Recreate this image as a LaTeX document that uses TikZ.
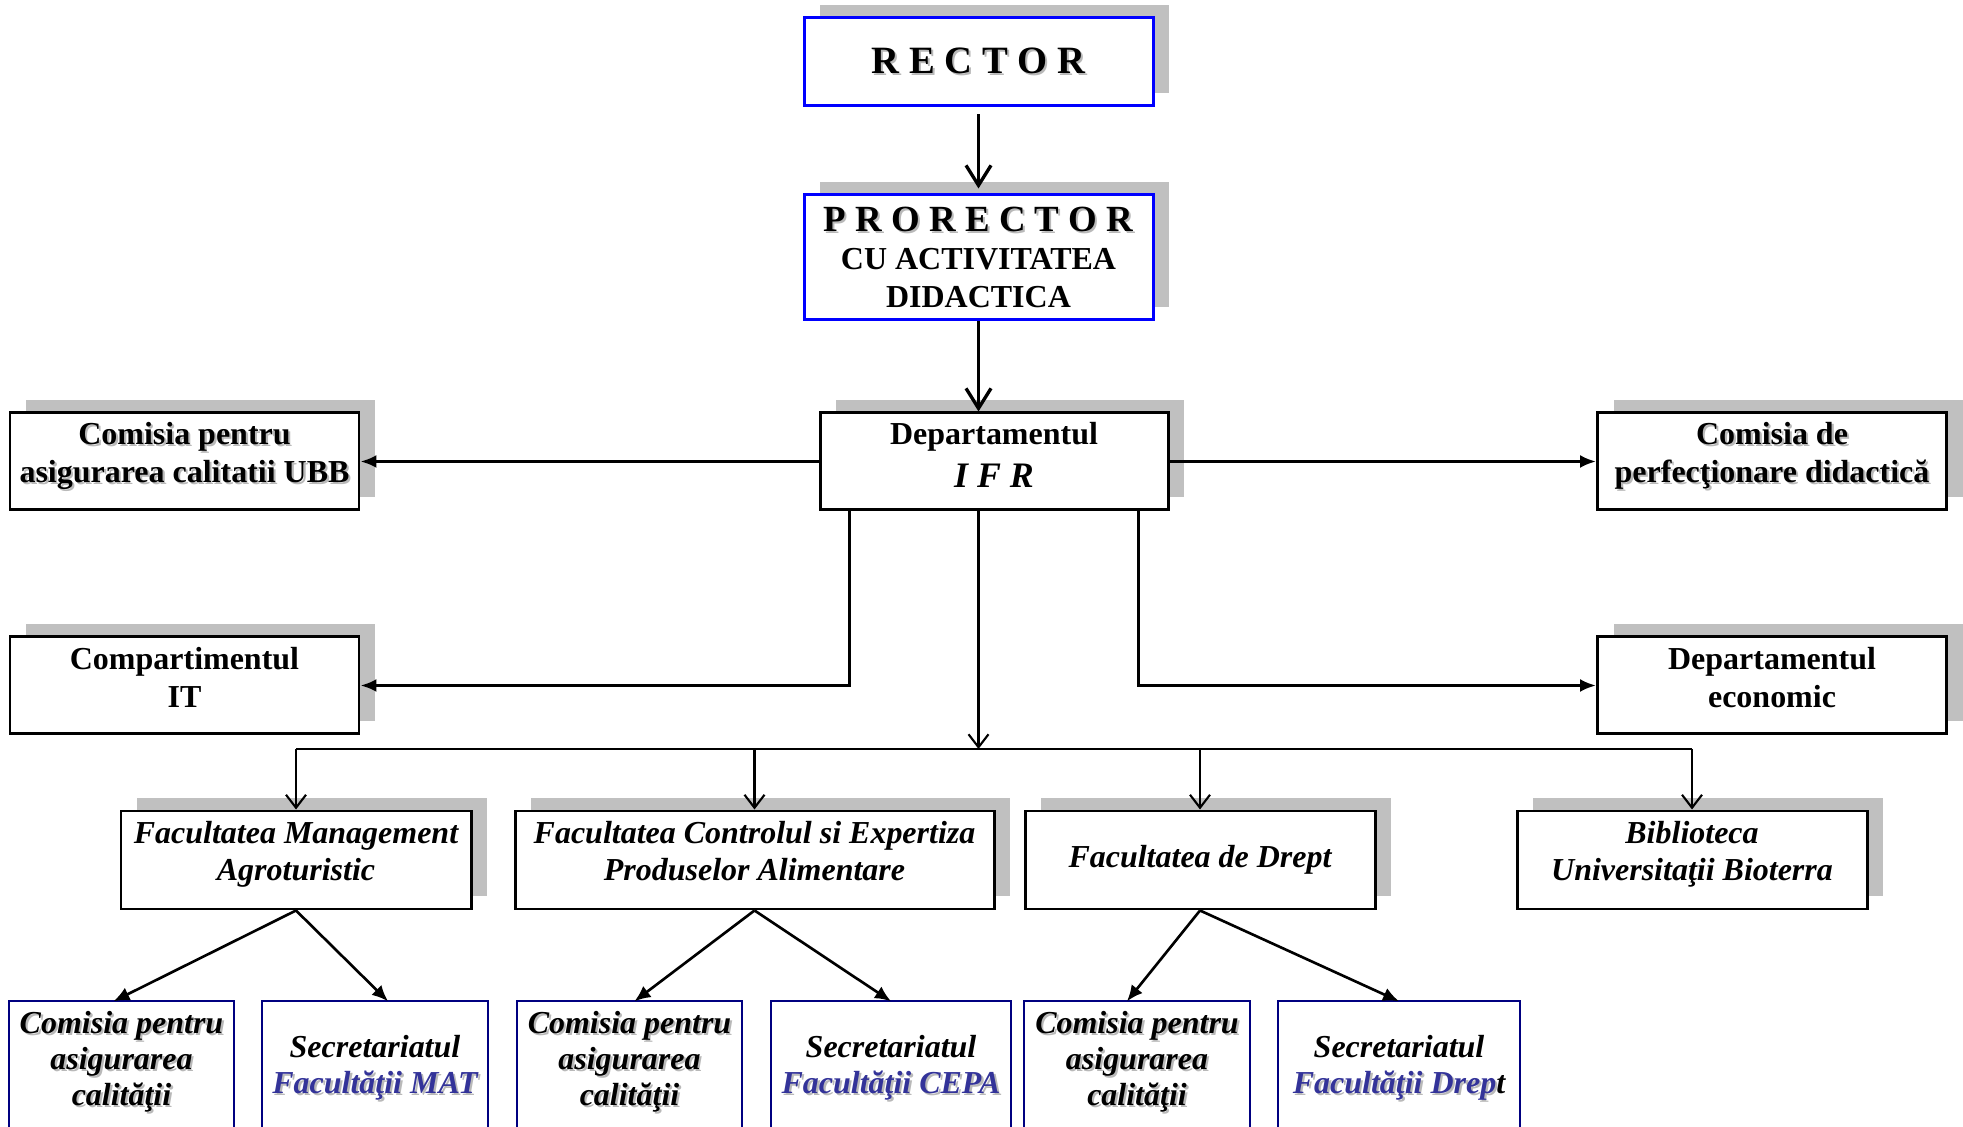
\documentclass[tikz,border=0pt]{standalone}
\usepackage{fontspec}
\setmainfont{Liberation Serif}
\usepackage{tikz}
\usetikzlibrary{calc, arrows, arrows.meta, shapes, shadows}
\tikzset{>=latex}
\definecolor{boxblue}{RGB}{0, 0, 255}
\definecolor{boxnavy}{RGB}{0, 0, 128}
\definecolor{secblue}{RGB}{51, 51, 153}
\definecolor{boxgray}{RGB}{192, 192, 192}
\definecolor{txtgray}{RGB}{185, 185, 185}
\newcommand{\shd}[1]{\leavevmode\rlap{\kern0.6pt\raisebox{-0.6pt}{\textcolor{txtgray}{#1}}}#1}
\tikzset{
  unit/.style={draw, line width=0.85pt, fill=white, align=center, inner sep=0pt,
    font=\fontsize{9.1}{10.8}\selectfont\bfseries,
    drop shadow={shadow xshift=0.16cm, shadow yshift=0.13cm, fill=boxgray, opacity=1}},
  topunit/.style={unit, draw=boxblue, minimum width=3.49cm},
  midunit/.style={unit, minimum width=3.49cm, minimum height=0.97cm},
  facunit/.style={unit, font=\fontsize{9.1}{10.5}\selectfont\bfseries\itshape,
    minimum width=3.5cm, minimum height=0.98cm},
  lowunit/.style={align=center, inner sep=0pt, minimum height=1.22cm,
    font=\fontsize{9.1}{10.3}\selectfont\bfseries\itshape},
  secunit/.style={lowunit, minimum height=1.34cm},
  lowframe/.style={draw=boxnavy, line width=0.6pt},
  raised/.style={execute at end node={\rule[-#1]{0pt}{0pt}}},
  raised/.default=0.19cm,
  mainarrow/.style={line width=0.95pt, -{Straight Barb[length=0.2cm, width=0.25cm]}},
  sidearrow/.style={line width=0.8pt, -{Latex[length=0.16cm, width=0.13cm]}},
  busline/.style={line width=0.6pt},
  busarrow/.style={busline, -{Straight Barb[length=0.13cm, width=0.2cm]}},
  diagarrow/.style={line width=0.75pt, -{Latex[length=0.16cm, width=0.14cm]}}
}

\begin{document}
\begin{tikzpicture}
\useasboundingbox (0,0) rectangle (19.63,-11.27);
\clip (0,0) rectangle (19.63,-11.27);

\node[topunit, minimum height=0.88cm, font=\fontsize{11}{13}\selectfont\bfseries] (rector) at (9.785,-0.62) {\shd{R E C T O R}};
\node[topunit, minimum height=1.25cm] (prorector) at (9.785,-2.575) {{\fontsize{10.5}{12}\selectfont\shd{P R O R E C T O R}}\\CU ACTIVITATEA\\DIDACTICA};

\node[midunit, raised=0.14cm, minimum width=3.48cm] (ifr) at (9.94,-4.615) {Departamentul\\[0.05cm]{\fontsize{10.2}{12}\selectfont\itshape I F R}};
\node[midunit, raised] (ubb) at (1.845,-4.615) {\shd{Comisia pentru}\\\shd{asigurarea calitatii UBB}};
\node[midunit, raised] (perf) at (17.72,-4.615) {\shd{Comisia de}\\\shd{perfecţionare didactică}};
\node[midunit, raised=0.17cm] (it) at (1.845,-6.855) {Compartimentul\\IT};
\node[midunit, raised=0.17cm] (econ) at (17.72,-6.855) {Departamentul\\economic};

\node[facunit, raised] (mgmt) at (2.96,-8.60) {Facultatea Management\\Agroturistic};
\node[facunit, raised, minimum width=4.79cm] (cepa) at (7.545,-8.60) {Facultatea Controlul si Expertiza\\Produselor Alimentare};
\node[facunit] (drept) at (12.00,-8.60) {Facultatea de Drept};
\node[facunit, raised] (bibl) at (16.92,-8.60) {Biblioteca\\Universitaţii Bioterra};

\node[lowunit, minimum width=2.23cm] (com1) at (1.215,-10.63) {\shd{Comisia pentru}\\\shd{asigurarea}\\\shd{calităţii}};
\node[secunit, minimum width=2.24cm] (sec1) at (3.75,-10.69) {Secretariatul\\{\color{secblue}\shd{Facultăţii MAT}}};
\node[lowunit, minimum width=2.23cm] (com2) at (6.295,-10.63) {\shd{Comisia pentru}\\\shd{asigurarea}\\\shd{calităţii}};
\node[secunit, minimum width=2.38cm] (sec2) at (8.91,-10.69) {Secretariatul\\{\color{secblue}\shd{Facultăţii CEPA}}};
\node[lowunit, minimum width=2.24cm] (com3) at (11.37,-10.63) {\shd{Comisia pentru}\\\shd{asigurarea}\\\shd{calităţii}};
\node[secunit, minimum width=2.40cm] (sec3) at (13.99,-10.69) {Secretariatul\\{\color{secblue}\shd{Facultăţii Drep}}t};
\foreach \b in {com1,sec1,com2,sec2,com3,sec3}
  \draw[lowframe] ([yshift=-1cm]\b.south west) |- (\b.north east) -- ([yshift=-1cm]\b.south east);

\draw[mainarrow, shorten <=0.07cm, shorten >=0.05cm] (rector) -- (prorector);
\draw[mainarrow] (prorector) -- (prorector.south |- ifr.north);

\draw[sidearrow] (ifr) -- (ubb);
\draw[sidearrow] (ifr) -- (perf);
\draw[sidearrow] ([xshift=0.31cm]ifr.south west) |- (it.east);
\draw[sidearrow] ([xshift=-0.31cm]ifr.south east) |- (econ.west);

\coordinate (bus) at (9.785,-7.49);
\draw[busarrow] (ifr.south -| bus) -- (bus);
\draw[busline] (mgmt.north |- bus) -- (bibl.north |- bus);
\foreach \f in {mgmt,cepa,drept,bibl}
  \draw[busarrow] (\f.north |- bus) -- (\f.north);

\draw[diagarrow] (mgmt.south) -- ([xshift=-0.08cm]com1.north);
\draw[diagarrow] (mgmt.south) -- ([xshift=0.13cm]sec1.north);
\draw[diagarrow] (cepa.south) -- ([xshift=0.05cm]com2.north);
\draw[diagarrow] (cepa.south) -- (sec2.north);
\draw[diagarrow] (drept.south) -- ([xshift=-0.1cm]com3.north);
\draw[diagarrow] (drept.south) -- (sec3.north);
\end{tikzpicture}
\end{document}
